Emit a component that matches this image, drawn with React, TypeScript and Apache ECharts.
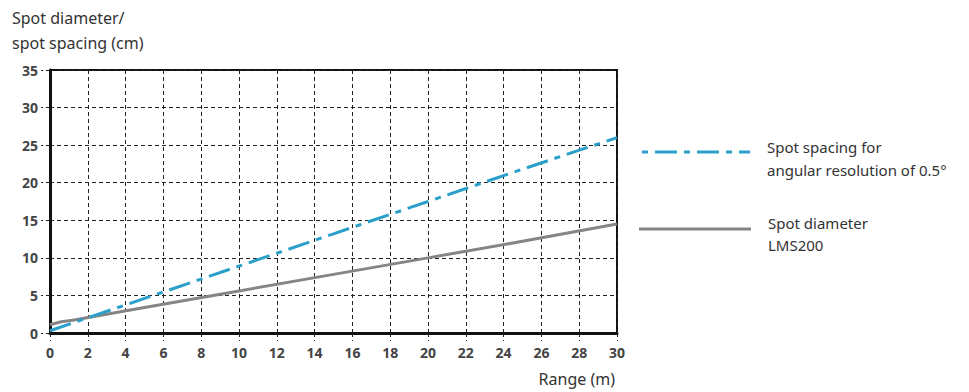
import React, { useEffect, useRef } from "react";
import * as echarts from "echarts";

const xTicks = [0, 2, 4, 6, 8, 10, 12, 14, 16, 18, 20, 22, 24, 26, 28, 30];
const yTicks = [0, 5, 10, 15, 20, 25, 30, 35];
const spacingX = [0, 5, 10, 15, 20, 25, 30];
const spacingY = [0.3, 4.6, 8.9, 13.2, 17.5, 21.8, 26.0];
const diameterX = [0, 0.6, 1.2, 5, 10, 15, 20, 25, 30];
const diameterY = [1.1, 1.5, 1.7, 3.4, 5.6, 7.8, 10.0, 12.2, 14.5];
const legendLabels = ["Spot spacing for\nangular resolution of 0.5°", "Spot diameter\nLMS200"];
const yTitle = "Spot diameter/\nspot spacing (cm)";
const xTitle = "Range (m)";

const BLUE = "#2a9fc9";
const GRAY = "#858585";
const FONT = "'Noto Sans', 'Open Sans', sans-serif";

export default function App() {
  const ref = useRef<HTMLDivElement>(null);
  useEffect(() => {
    if (!ref.current) return;
    const chart = echarts.init(ref.current, null, { renderer: "svg" });
    const dashLine = {
      type: [22, 7, 6, 7],
      width: 3,
      color: BLUE,
    };
    chart.setOption({
      animation: false,
      backgroundColor: "#fff",
      textStyle: { fontFamily: FONT },
      grid: {
        left: 50,
        right: 352,
        top: 70,
        bottom: 59,
        show: true,
        borderColor: "#111",
        borderWidth: 2,
        backgroundColor: "transparent",
      },
      xAxis: {
        type: "value",
        min: 0,
        max: 30,
        interval: 2,
        axisLine: { show: true, onZero: false, lineStyle: { color: "#111", width: 3 } },
        axisTick: { show: true, length: 8, lineStyle: { color: "#222", type: [4, 3], width: 1 } },
        axisLabel: { color: "#444", fontSize: 14, fontWeight: "bold", margin: 12, fontFamily: FONT },
        splitLine: { show: true, lineStyle: { color: "#222", type: [4, 3], width: 1 } },
      },
      yAxis: {
        type: "value",
        min: 0,
        max: 35,
        interval: 5,
        axisLine: { show: true, onZero: false, lineStyle: { color: "#111", width: 3 } },
        axisTick: { show: true, length: 9, lineStyle: { color: "#222", type: [4, 3], width: 1 } },
        axisLabel: { color: "#444", fontSize: 14, fontWeight: "bold", margin: 12, fontFamily: FONT },
        splitLine: { show: true, lineStyle: { color: "#222", type: [4, 3], width: 1 } },
      },
      series: [
        {
          name: "diameter",
          type: "line",
          showSymbol: false,
          smooth: false,
          data: diameterX.map((x, i) => [x, diameterY[i]]),
          lineStyle: { color: GRAY, width: 3 },
          z: 3,
        },
        {
          name: "spacing",
          type: "line",
          showSymbol: false,
          data: spacingX.map((x, i) => [x, spacingY[i]]),
          lineStyle: dashLine,
          z: 4,
        },
      ],
      graphic: [
        {
          type: "text",
          left: 12,
          top: 5,
          style: { text: yTitle, font: `16px ${FONT}`, fill: "#333", lineHeight: 25 },
        },
        {
          type: "text",
          x: 615,
          y: 371,
          style: { text: xTitle, font: `16px ${FONT}`, fill: "#333", align: "right" },
        },
        {
          type: "line",
          shape: { x1: 642, y1: 152, x2: 750, y2: 152 },
          style: { stroke: BLUE, lineWidth: 3, lineDash: [6, 7, 22, 7] },
        },
        {
          type: "text",
          x: 767,
          y: 135,
          style: { text: legendLabels[0], font: `15px ${FONT}`, fill: "#333", lineHeight: 23 },
        },
        {
          type: "line",
          shape: { x1: 639, y1: 229, x2: 751, y2: 229 },
          style: { stroke: GRAY, lineWidth: 3 },
        },
        {
          type: "text",
          x: 768,
          y: 212,
          style: { text: legendLabels[1], font: `15px ${FONT}`, fill: "#333", lineHeight: 22 },
        },
      ],
    });
    return () => chart.dispose();
  }, []);
  return (
    <div
      ref={ref}
      style={{ position: "absolute", left: 0, top: 0, width: 969, height: 392 }}
    />
  );
}
